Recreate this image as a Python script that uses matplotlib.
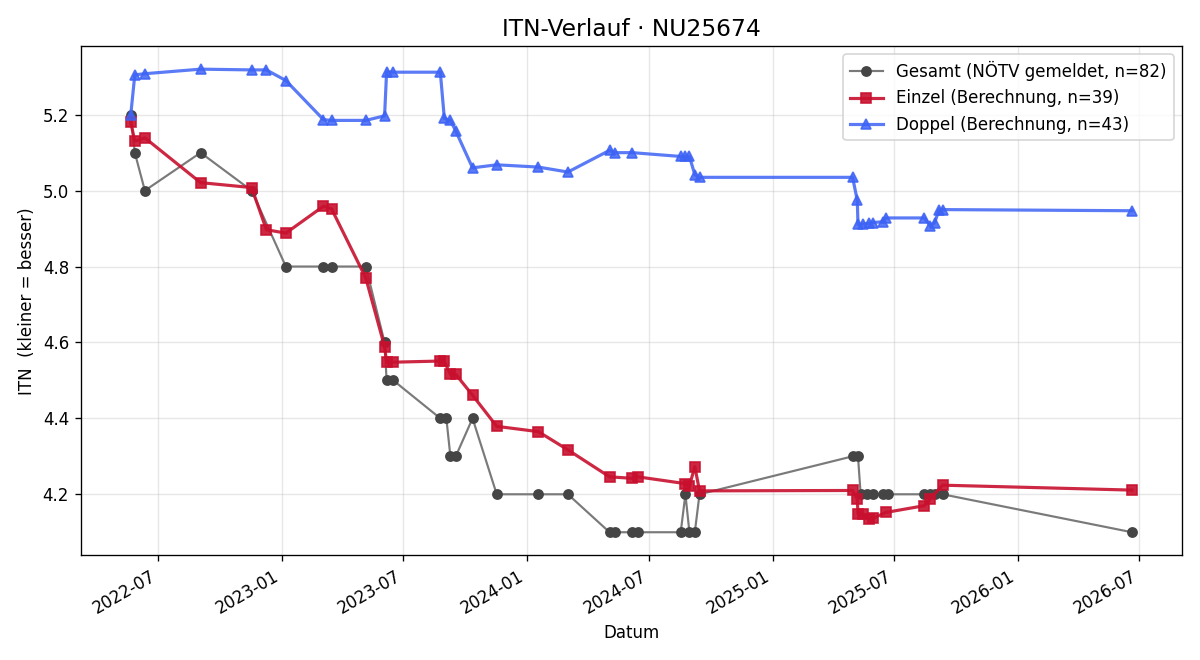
import matplotlib
matplotlib.use("Agg")
import matplotlib.pyplot as plt
import matplotlib.dates as mdates
import pandas as pd

# --- data ---------------------------------------------------------------
gesamt_dates = ["2022-05-21", "2022-05-27", "2022-06-11", "2022-09-02", "2022-11-17",
                "2023-01-07", "2023-03-04", "2023-03-16", "2023-05-06", "2023-06-03",
                "2023-06-06", "2023-06-16", "2023-08-25", "2023-09-03", "2023-09-09",
                "2023-09-17", "2023-10-12", "2023-11-17", "2024-01-18", "2024-03-02",
                "2024-05-03", "2024-05-11", "2024-06-06", "2024-06-14", "2024-08-17",
                "2024-08-24", "2024-08-30", "2024-09-07", "2024-09-14", "2025-04-30",
                "2025-05-08", "2025-05-12", "2025-05-21", "2025-05-31", "2025-06-14",
                "2025-06-21", "2025-08-15", "2025-08-23", "2025-08-30", "2025-09-11",
                "2026-06-20"]
gesamt_vals = [5.2, 5.1, 5.0, 5.1, 5.0,
               4.8, 4.8, 4.8, 4.8, 4.6,
               4.5, 4.5, 4.4, 4.4, 4.3,
               4.3, 4.4, 4.2, 4.2, 4.2,
               4.1, 4.1, 4.1, 4.1, 4.1,
               4.2, 4.1, 4.1, 4.2, 4.3,
               4.3, 4.2, 4.2, 4.2, 4.2,
               4.2, 4.2, 4.2, 4.2, 4.2,
               4.1]

einzel_dates = ["2022-05-21", "2022-05-27", "2022-06-11", "2022-09-02", "2022-11-17",
                "2022-12-09", "2023-01-07", "2023-03-04", "2023-03-16", "2023-05-06",
                "2023-06-03", "2023-06-06", "2023-06-16", "2023-08-25", "2023-08-31",
                "2023-09-09", "2023-09-17", "2023-10-12", "2023-11-17", "2024-01-18",
                "2024-03-02", "2024-05-03", "2024-06-06", "2024-06-14", "2024-08-24",
                "2024-08-30", "2024-09-07", "2024-09-14", "2025-04-30", "2025-05-07",
                "2025-05-08", "2025-05-16", "2025-05-24", "2025-05-31", "2025-06-18",
                "2025-08-15", "2025-08-23", "2025-09-11", "2026-06-20"]
einzel_vals = [5.18, 5.13, 5.139, 5.021, 5.008,
               4.897, 4.888, 4.959, 4.952, 4.77,
               4.589, 4.548, 4.548, 4.551, 4.55,
               4.516, 4.516, 4.461, 4.379, 4.365,
               4.317, 4.246, 4.242, 4.246, 4.228,
               4.222, 4.273, 4.209, 4.21, 4.187,
               4.149, 4.147, 4.136, 4.137, 4.152,
               4.17, 4.187, 4.224, 4.211]

doppel_dates = ["2022-05-21", "2022-05-27", "2022-06-11", "2022-09-02", "2022-11-17",
                "2022-12-09", "2023-01-07", "2023-03-04", "2023-03-16", "2023-05-06",
                "2023-06-03", "2023-06-06", "2023-06-16", "2023-08-25", "2023-08-31",
                "2023-09-09", "2023-09-17", "2023-10-12", "2023-11-17", "2024-01-18",
                "2024-03-02", "2024-05-03", "2024-05-11", "2024-06-06", "2024-08-17",
                "2024-08-24", "2024-08-30", "2024-09-07", "2024-09-14", "2025-04-30",
                "2025-05-07", "2025-05-08", "2025-05-16", "2025-05-24", "2025-05-31",
                "2025-06-14", "2025-06-18", "2025-08-15", "2025-08-23", "2025-08-30",
                "2025-09-06", "2025-09-11", "2026-06-20"]
doppel_vals = [5.2, 5.305, 5.308, 5.32, 5.318,
               5.318, 5.29, 5.187, 5.185, 5.185,
               5.197, 5.313, 5.312, 5.312, 5.19,
               5.185, 5.157, 5.06, 5.068, 5.062,
               5.049, 5.106, 5.1, 5.1, 5.09,
               5.09, 5.09, 5.042, 5.035, 5.035,
               4.974, 4.911, 4.912, 4.914, 4.916,
               4.918, 4.928, 4.928, 4.908, 4.915,
               4.95, 4.95, 4.947]

labels = ["Gesamt (NÖTV gemeldet, n=82)",
          "Einzel (Berechnung, n=39)",
          "Doppel (Berechnung, n=43)"]

# --- plot ---------------------------------------------------------------
fig, ax = plt.subplots(figsize=(10, 5.5), dpi=120)

ax.plot(pd.to_datetime(gesamt_dates), gesamt_vals, marker="o", ms=5.5, lw=1.3,
        color="#7a7a7a", markerfacecolor="#454545", markeredgecolor="#454545",
        label=labels[0])
ax.plot(pd.to_datetime(einzel_dates), einzel_vals, marker="s", ms=6, lw=1.9,
        color="#c8102e", alpha=0.9, label=labels[1])
ax.plot(pd.to_datetime(doppel_dates), doppel_vals, marker="^", ms=6, lw=1.9,
        color="#3d63f5", alpha=0.85, label=labels[2])

ax.set_title("ITN-Verlauf · NU25674", fontsize=14)
ax.set_xlabel("Datum")
ax.set_ylabel("ITN  (kleiner = besser)")
ax.grid(True, alpha=0.3)
ax.xaxis.set_major_locator(mdates.MonthLocator(bymonth=(1, 7)))
ax.xaxis.set_major_formatter(mdates.DateFormatter("%Y-%m"))
ax.legend(loc="upper right")
fig.autofmt_xdate()
fig.tight_layout()
fig.savefig("out.png", dpi=120)
